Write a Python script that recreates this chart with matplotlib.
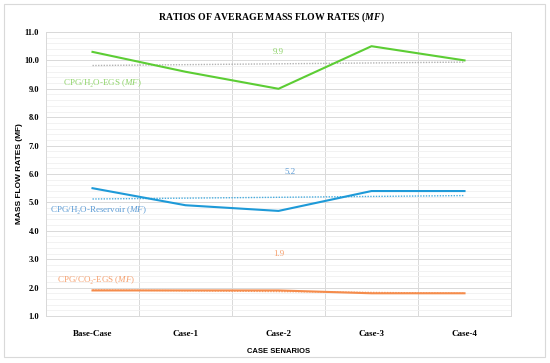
import matplotlib
matplotlib.use("Agg")
import matplotlib.pyplot as plt
import numpy as np
from matplotlib.patches import Rectangle
from matplotlib.ticker import MultipleLocator

plt.rcParams['mathtext.fontset'] = 'custom'
plt.rcParams['mathtext.rm'] = 'Liberation Serif'
plt.rcParams['mathtext.it'] = 'Liberation Serif:italic'
plt.rcParams['mathtext.bf'] = 'Liberation Serif:bold'
plt.rcParams['mathtext.bfit'] = 'Liberation Serif:bold:italic'

categories = ["Base-Case", "Case-1", "Case-2", "Case-3", "Case-4"]
h2o_egs = [10.3, 9.6, 9.0, 10.5, 10.0]
h2o_res = [5.5, 4.9, 4.7, 5.4, 5.4]
co2_egs = [1.9, 1.9, 1.9, 1.8, 1.8]
avg_labels = ["9.9", "5.2", "1.9"]

c_green, c_green_l = "#5ccd34", "#8fd46a"
c_blue, c_blue_l = "#1e9ad8", "#5b9bd5"
c_orange, c_orange_l = "#f58c4c", "#f6a06e"

serif = "Liberation Serif"
sans = "Liberation Sans"

fig = plt.figure(figsize=(5.5, 3.63), dpi=100)
fig.patches.append(Rectangle((4/550, 1-357/363), 541/550, 353/363, transform=fig.transFigure,
                             fill=False, edgecolor="#d9d9d9", lw=0.8))
ax = fig.add_axes([46/550, 1-316/363, 465/550, 284/363])

x = np.arange(len(categories))
for y, col in [(h2o_egs, c_green), (h2o_res, c_blue), (co2_egs, c_orange)]:
    ax.plot(x, y, color=col, lw=1.5, zorder=3)
    p = np.polyfit(x, y, 1)
    ax.plot(x, np.polyval(p, x), color=col if col != c_green else "#a0a0a0",
            lw=1.0, ls=(0, (1, 1)), zorder=2, alpha=0.8)

ax.set_xlim(-0.5, 4.5)
ax.set_ylim(1.0, 11.0)
ax.yaxis.set_minor_locator(MultipleLocator(0.2))
ax.set_yticks(np.arange(1.0, 11.01, 1.0))
ax.set_yticklabels([f"{v:.1f}" for v in np.arange(1.0, 11.01, 1.0)],
                   fontfamily=serif, fontweight="bold", fontsize=6)
ax.set_xticks(x)
ax.set_xticklabels(categories, fontfamily=serif, fontweight="bold", fontsize=6.5)
ax.set_xticks(np.arange(-0.5, 4.6, 1.0), minor=True)
ax.grid(True, which="major", axis="y", color="#d9d9d9", lw=0.7, zorder=0)
ax.grid(True, which="minor", axis="y", color="#f0f0f0", lw=0.6, zorder=0)
ax.grid(True, which="minor", axis="x", color="#d9d9d9", lw=0.7, zorder=0)
ax.tick_params(which="both", length=0)
ax.tick_params(axis="x", pad=10)
ax.tick_params(axis="y", pad=5)
for s in ax.spines.values():
    s.set_color("#d9d9d9")
    s.set_linewidth(0.7)

ax.set_xlabel("CASE SENARIOS", fontfamily=sans, fontweight="bold", fontsize=5.5, labelpad=7)
ax.set_ylabel("MASS FLOW RATES (MF)", fontfamily=sans, fontweight="bold", fontsize=6, labelpad=1)
fig.text(271/550, 1-17/363, r"RATIOS OF AVERAGE MASS FLOW RATES ($\mathbfit{MF}$)",
         ha="center", va="center", fontfamily=serif, fontweight="bold", fontsize=7)

ax.text(2, 10.3, avg_labels[0], color=c_green_l, fontfamily=serif, fontsize=6.5, ha="center", va="center")
ax.text(2.12, 6.07, avg_labels[1], color=c_blue_l, fontfamily=serif, fontsize=6.5, ha="center", va="center")
ax.text(2, 3.2, avg_labels[2], color=c_orange_l, fontfamily=serif, fontsize=6.5, ha="center", va="center")

ax.text(0.11, 9.2, r"CPG/H₂O-EGS ($\mathit{MF}$)", color=c_green_l, fontfamily=serif, fontsize=6.5, ha="center", va="center")
ax.text(0.065, 4.75, r"CPG/H₂O-Reservoir ($\mathit{MF}$)", color=c_blue_l, fontfamily=serif, fontsize=6.5, ha="center", va="center")
ax.text(0.04, 2.27, r"CPG/CO₂-EGS ($\mathit{MF}$)", color=c_orange_l, fontfamily=serif, fontsize=6.5, ha="center", va="center")

fig.savefig("out.png", dpi=100)
